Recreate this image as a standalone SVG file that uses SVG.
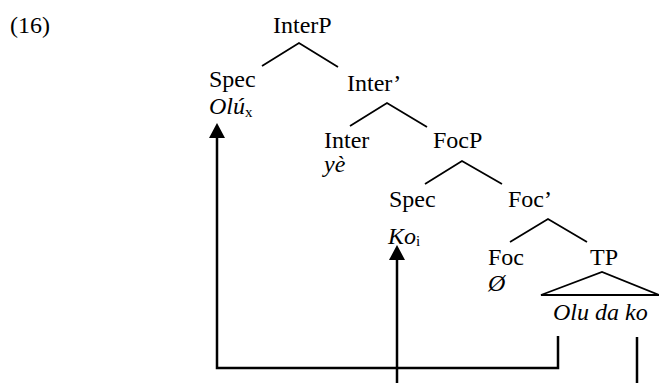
<svg xmlns="http://www.w3.org/2000/svg" width="659" height="383" viewBox="0 0 659 383">
<defs>
<style>
text{font-family:'Liberation Serif','Times New Roman',serif;font-size:24px;fill:#000}
.it{font-style:italic}
.sub{font-size:15px;font-style:normal}
.tree{stroke:#000;stroke-width:1.8;fill:none}
.mv{stroke:#000;stroke-width:2.5;fill:none}
</style>
</defs>
<rect width="659" height="383" fill="#fff"/>
<text x="10" y="33">(16)</text>
<g id="InterP"><text x="273" y="33">InterP</text></g>
<g id="SpecInter"><text x="209" y="87">Spec</text><text x="209" y="114" class="it">Olú<tspan class="sub" dy="3">x</tspan></text></g>
<g id="InterBar"><text x="347" y="91">Inter’</text></g>
<g id="Inter"><text x="324" y="148">Inter</text><text x="324" y="172" class="it">yè</text></g>
<g id="FocP"><text x="433" y="148">FocP</text></g>
<g id="SpecFoc"><text x="389" y="207">Spec</text><text x="388" y="244" class="it">Ko<tspan class="sub" dy="2">i</tspan></text></g>
<g id="FocBar"><text x="508" y="207">Foc’</text></g>
<g id="Foc"><text x="488" y="265">Foc</text><text x="488" y="291" class="it">Ø</text></g>
<g id="TP"><text x="590" y="265">TP</text><text x="553" y="320" class="it">Olu da ko</text></g>
<g id="connectors">
<polyline class="tree" points="262,66 299,43 338,67"/>
<polyline class="tree" points="350,126 387,103 427,127"/>
<polyline class="tree" points="425,184 462,161 502,184"/>
<polyline class="tree" points="510,242 548,219 587,242"/>
<polygon class="tree" points="541,295 602,272 659,295"/>
<polyline class="mv" points="558,336 558,368 217,368 217,136"/>
<path d="M217,123 L209,138 L225,138 Z"/>
<line class="mv" x1="397" y1="383" x2="397" y2="258"/>
<path d="M397,245 L389,260 L405,260 Z"/>
<line class="mv" x1="637" y1="337" x2="637" y2="383"/>
</g>
</svg>
